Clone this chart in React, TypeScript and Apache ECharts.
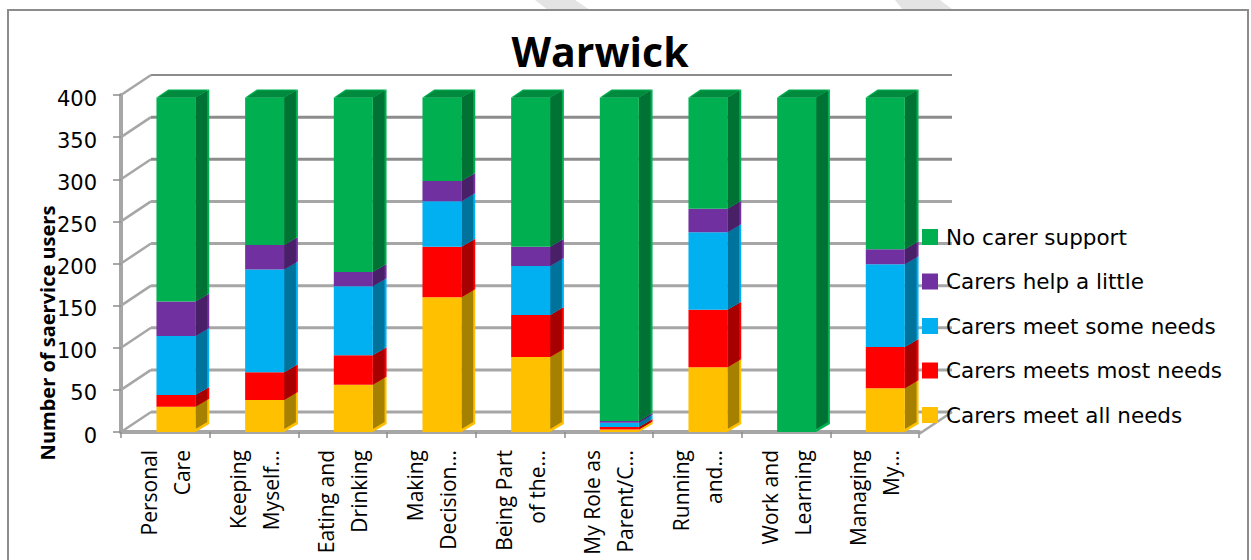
import React, { useEffect, useRef } from "react";
import * as echarts from "echarts";

const categories = [
  "Personal\nCare",
  "Keeping\nMyself...",
  "Eating and\nDrinking",
  "Making\nDecision...",
  "Being Part\nof the...",
  "My Role as\nParent/C...",
  "Running\nand...",
  "Work and\nLearning",
  "Managing\nMy...",
];
const meetAll = [30, 38, 56, 160, 89, 3, 77, 0, 52];
const meetsMost = [14, 33, 35, 60, 50, 3, 68, 0, 49];
const meetSome = [70, 122, 82, 54, 58, 5, 92, 0, 98];
const helpLittle = [41, 29, 17, 24, 23, 2, 28, 0, 18];
const noSupport = [242, 175, 207, 99, 177, 384, 132, 397, 180];
const yTicks = [0, 50, 100, 150, 200, 250, 300, 350, 400];

const seriesDefs = [
  { name: "Carers meet all needs", values: meetAll, color: "#FFC000", dark: "#A68000" },
  { name: "Carers meets most needs", values: meetsMost, color: "#FF0000", dark: "#A60000" },
  { name: "Carers meet some needs", values: meetSome, color: "#00B0F0", dark: "#00739C" },
  { name: "Carers help a little", values: helpLittle, color: "#7030A0", dark: "#492068" },
  { name: "No carer support", values: noSupport, color: "#00B050", dark: "#007234" },
];

const DX = 30;
const DY = 20;

export default function App() {
  const ref = useRef<HTMLDivElement>(null);
  useEffect(() => {
    const chart = echarts.init(ref.current!, undefined, { renderer: "svg" });

    const bases = categories.map(() => 0);
    const barSeries = seriesDefs.map((def, si) => {
      const data = def.values.map((v, i) => {
        const row = [i, bases[i], bases[i] + v, si];
        bases[i] += v;
        return row;
      });
      return {
        type: "custom",
        name: def.name,
        coordinateSystem: "cartesian2d",
        itemStyle: { color: def.color },
        z: 5,
        silent: true,
        encode: { x: 0, y: [1, 2] },
        data,
        renderItem: (_p: any, api: any) => {
          const i = api.value(0);
          const lo = api.value(1);
          const hi = api.value(2);
          if (hi - lo <= 0) return { type: "group", children: [] };
          const band = api.size([1, 0])[0];
          const c = api.coord([i, 0])[0];
          const yb = api.coord([i, lo])[1];
          const yt = api.coord([i, hi])[1];
          const x0 = c - band * 0.1;
          const x1 = c + band * 0.34;
          const dx = band * 0.155;
          const dy = 8;
          const first = lo === 0;
          const children: any[] = [
            { type: "polygon", shape: { points: [[x1, yb], [x1 + dx, yb - dy], [x1 + dx, yt - dy], [x1, yt]] }, style: { fill: def.color } },
            { type: "polygon", shape: { points: [[x1, yb - (first ? 3 : 0)], [x1 + dx - 2, yb - dy + 1 - (first ? 3 : 0)], [x1 + dx - 2, yt - dy + 1], [x1, yt]] }, style: { fill: def.dark } },
            { type: "rect", shape: { x: x0, y: yt, width: x1 - x0, height: yb - yt }, style: { fill: def.color } },
          ];
          if (si === seriesDefs.length - 1) {
            children.push(
              { type: "polygon", shape: { points: [[x0, yt], [x0 + dx - 2, yt - dy], [x1 + dx, yt - dy], [x1, yt]] }, style: { fill: def.color } },
              { type: "polygon", shape: { points: [[x0 + 2, yt], [x0 + dx - 1, yt - dy + 1], [x1 + dx - 2, yt - dy + 1], [x1, yt]] }, style: { fill: "#008A3E" } },
            );
          }
          return { type: "group", children };
        },
      };
    });

    const wallSeries = {
      type: "custom",
      name: "walls",
      coordinateSystem: "cartesian2d",
      silent: true,
      z: 1,
      encode: { x: 0, y: 1 },
      data: yTicks.map((t) => [0, t]),
      renderItem: (p: any, api: any) => {
        const v = api.value(1);
        const y = api.coord([0, v])[1];
        const left = p.coordSys.x;
        const right = left + p.coordSys.width;
        const isTop = v === yTicks[yTicks.length - 1];
        const children: any[] = [
          { type: "line", shape: { x1: left, y1: y, x2: left + DX, y2: y - DY }, style: { stroke: "#a6a6a6", lineWidth: 2.5 } },
          { type: "line", shape: { x1: left + DX, y1: y - DY, x2: right + DX + 3, y2: y - DY }, style: { stroke: v >= 300 ? "#8c8c8c" : "#a6a6a6", lineWidth: isTop ? 2 : 3 } },
        ];
        if (v === 0) {
          children.push({ type: "line", shape: { x1: right, y1: y + 2, x2: right + DX + 3, y2: y - DY }, style: { stroke: "#a6a6a6", lineWidth: 2.5 } });
        }
        return { type: "group", children };
      },
    };

    const option: any = {
      animation: false,
      backgroundColor: "#ffffff",
      title: {
        text: "Warwick",
        left: 595,
        top: 25,
        textAlign: "center",
        textStyle: { fontFamily: "Open Sans", fontWeight: "bold", fontSize: 41, color: "#000" },
      },
      legend: {
        orient: "vertical",
        left: 917,
        top: 221,
        itemWidth: 16,
        itemHeight: 16,
        itemGap: 22.5,
        icon: "rect",
        selectedMode: false,
        data: seriesDefs.map((d) => d.name).reverse(),
        textStyle: { fontFamily: "DejaVu Sans", fontSize: 21.5, color: "#000", lineHeight: 22, padding: [0, 0, 0, 3] },
      },
      grid: { left: 121, top: 95, width: 798, height: 337, containLabel: false, outerBoundsMode: "none" },
      xAxis: {
        type: "category",
        offset: 2,
        data: categories.map((c) => ({ value: c, textStyle: { padding: [0, 0, 0, 1] } })),
        axisLine: { lineStyle: { color: "#a6a6a6", width: 4 } },
        axisTick: { show: true, length: 6, alignWithLabel: false, lineStyle: { color: "#8c8c8c", width: 1.5 } },
        axisLabel: {
          interval: 0,
          rotate: 90,
          align: "center",
          verticalAlign: "middle",
          margin: 16,
          lineHeight: 33,
          fontFamily: "Open Sans",
          fontSize: 21,
          color: "#000",
          hideOverlap: false,
        },
      },
      yAxis: {
        type: "value",
        min: 0,
        max: 400,
        interval: 50,
        axisLine: { show: true, lineStyle: { color: "#a6a6a6", width: 4 } },
        axisTick: { show: true, length: 8, lineStyle: { color: "#8c8c8c", width: 1.5 } },
        splitLine: { show: false },
        axisLabel: {
          margin: 24,
          formatter: "{n|{value}}",
          rich: { n: { padding: [7, 0, 0, 0], fontFamily: "DejaVu Sans", fontSize: 21, color: "#000" } },
        },
      },
      graphic: [
        { type: "polygon", z: -1, silent: true, shape: { points: [[535, 0], [575, 0], [590, 10], [548, 10]] }, style: { fill: "#e4e4e4" } },
        { type: "polygon", z: -1, silent: true, shape: { points: [[895, 0], [940, 0], [953, 10], [903, 10]] }, style: { fill: "#e4e4e4" } },
        { type: "rect", z: -1, silent: true, shape: { x: 8, y: 10, width: 1240, height: 570 }, style: { fill: "none", stroke: "#8c8c8c", lineWidth: 2 } },
        {
          type: "text",
          x: 47,
          y: 333,
          rotation: Math.PI / 2,
          silent: true,
          style: { text: "Number of saervice users", align: "center", verticalAlign: "middle", fontFamily: "Open Sans", fontWeight: "bold", fontSize: 20, fill: "#000" },
        },
      ],
      series: [wallSeries, ...barSeries],
    };
    chart.setOption(option);
    return () => chart.dispose();
  }, []);
  return <div ref={ref} style={{ position: "fixed", left: 0, top: 0, width: 1251, height: 560 }} />;
}
